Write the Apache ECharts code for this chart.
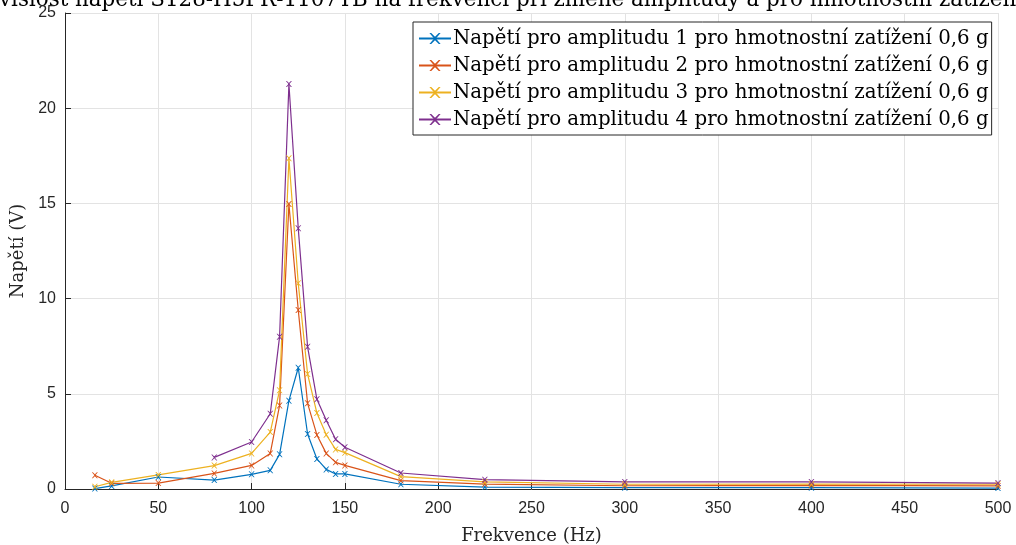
<!DOCTYPE html>
<html>
<head>
<meta charset="utf-8">
<script src="https://cdn.jsdelivr.net/npm/echarts@6/dist/echarts.min.js"></script>
<style>
  html, body { margin: 0; padding: 0; background: #fff; overflow: hidden; }
  #chart { width: 1016px; height: 545px; }
</style>
</head>
<body>
<div id="chart"></div>
<script>
// Frequencies (Hz) at which the voltage was measured
const freqA = [16, 25, 50, 80, 100, 110, 115, 120, 125, 130, 135, 140, 145, 150, 180, 225, 300, 400, 500];
const freqB = [80, 100, 110, 115, 120, 125, 130, 135, 140, 145, 150, 180, 225, 300, 400, 500];

// Measured voltage (V) for each excitation amplitude
const amp1 = [0.02, 0.16, 0.63, 0.47, 0.77, 0.98, 1.82, 4.64, 6.37, 2.89, 1.58, 1.03, 0.79, 0.79, 0.25, 0.10, 0.07, 0.07, 0.05];
const amp2 = [0.72, 0.30, 0.31, 0.82, 1.24, 1.87, 4.39, 14.97, 9.40, 4.50, 2.84, 1.87, 1.40, 1.24, 0.44, 0.26, 0.17, 0.19, 0.16];
const amp3 = [0.12, 0.35, 0.74, 1.23, 1.87, 2.99, 5.18, 17.37, 10.80, 6.04, 3.99, 2.85, 2.08, 1.91, 0.65, 0.37, 0.25, 0.26, 0.25];
const amp4 = [1.66, 2.47, 3.95, 8.00, 21.27, 13.69, 7.47, 4.71, 3.61, 2.61, 2.19, 0.84, 0.49, 0.37, 0.37, 0.31];

const seriesNames = [
  'Napětí pro amplitudu 1 pro hmotnostní zatížení 0,6 g',
  'Napětí pro amplitudu 2 pro hmotnostní zatížení 0,6 g',
  'Napětí pro amplitudu 3 pro hmotnostní zatížení 0,6 g',
  'Napětí pro amplitudu 4 pro hmotnostní zatížení 0,6 g'
];
const colors = ['#0072BD', '#D95319', '#EDB120', '#7E2F8E'];

const titleText = 'Závislost napětí S128-H5FR-1107YB na frekvenci při změně amplitudy a pro hmotnostní zatížení 0,6 g';
const xName = 'Frekvence (Hz)';
const yName = 'Napětí (V)';

const serif = '"DejaVu Serif", "Liberation Serif", serif';
const sans = '"Liberation Sans", Arial, sans-serif';

// The title is wider than the page; size it so that the part from "vislost"
// to "zatížen" fills the page width, with the rest running off both edges.
const measureCtx = document.createElement('canvas').getContext('2d');
function textWidth(str, size) {
  measureCtx.font = size + 'px ' + serif;
  return measureCtx.measureText(str).width;
}
const titleLead = 'Zá';
const titleSpan = titleText.slice(2, titleText.indexOf('zatížen') + 7);
const titleSize = 100 * 1018 / textWidth(titleSpan, 100);
const titleX = -1 - textWidth(titleLead, titleSize);

// "x" shaped marker
const crossMark = 'path://M0,0L1.6,0L5,3.4L8.4,0L10,0L5.8,5L10,10L8.4,10L5,6.6L1.6,10L0,10L4.2,5Z';

function pairs(xs, ys) {
  return xs.map((x, i) => [x, ys[i]]);
}

const seriesData = [pairs(freqA, amp1), pairs(freqA, amp2), pairs(freqA, amp3), pairs(freqB, amp4)];

const chart = echarts.init(document.getElementById('chart'));
chart.setOption({
  animation: false,
  color: colors,
  graphic: [{
    type: 'text',
    x: titleX,
    y: 11,
    style: { text: titleText, font: titleSize.toFixed(2) + 'px ' + serif, fill: '#000', verticalAlign: 'bottom' },
    silent: true
  }],
  legend: {
    orient: 'vertical',
    left: 413,
    top: 22,
    padding: [6, 3, 5, 5],
    itemGap: 6,
    itemWidth: 32,
    itemHeight: 14,
    backgroundColor: '#fff',
    borderColor: '#262626',
    borderWidth: 1,
    borderRadius: 0,
    textStyle: { fontFamily: serif, fontSize: 19.8, lineHeight: 21, color: '#000', padding: [0, 0, 0, -3] },
    data: seriesNames
  },
  grid: { left: 65, right: 18, top: 13, bottom: 56, containLabel: false, outerBoundsMode: 'none' },
  xAxis: {
    type: 'value',
    min: 0,
    max: 500,
    interval: 50,
    name: xName,
    nameLocation: 'middle',
    nameGap: 38,
    nameTextStyle: { fontFamily: serif, fontSize: 18, color: '#262626' },
    axisLine: { lineStyle: { color: '#262626', width: 1 } },
    axisTick: { inside: true, length: 6, lineStyle: { color: '#262626' } },
    axisLabel: { fontFamily: sans, fontSize: 16, color: '#262626', margin: 12 },
    splitLine: { show: true, lineStyle: { color: '#e3e3e3', width: 1 } }
  },
  yAxis: {
    type: 'value',
    min: 0,
    max: 25,
    interval: 5,
    name: yName,
    nameLocation: 'middle',
    nameGap: 35,
    nameTextStyle: { fontFamily: serif, fontSize: 18, color: '#262626' },
    axisLine: { show: true, lineStyle: { color: '#262626', width: 1 } },
    axisTick: { show: true, inside: true, length: 6, lineStyle: { color: '#262626' } },
    axisLabel: { fontFamily: sans, fontSize: 16, color: '#262626', margin: 9 },
    splitLine: { show: true, lineStyle: { color: '#e3e3e3', width: 1 } }
  },
  series: seriesNames.map((name, i) => ({
    name: name,
    type: 'line',
    data: seriesData[i],
    symbol: crossMark,
    symbolSize: 6,
    showAllSymbol: true,
    lineStyle: { width: 1.2, color: colors[i] },
    itemStyle: { color: colors[i] },
    emphasis: { disabled: true }
  }))
});
</script>
</body>
</html>
